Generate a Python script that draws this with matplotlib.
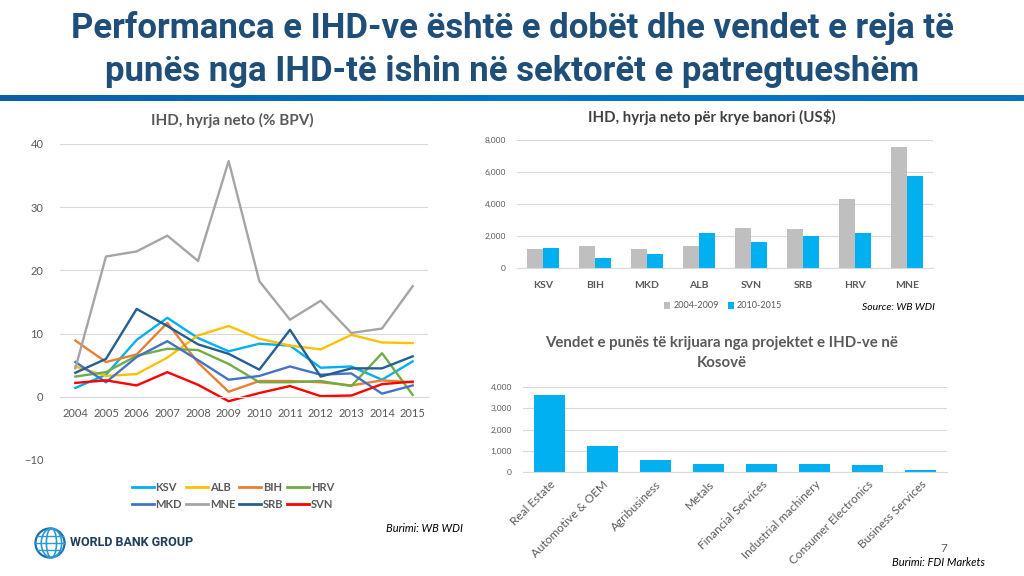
import matplotlib
matplotlib.use("Agg")
import matplotlib.pyplot as plt
import numpy as np
from matplotlib.patches import Circle, Ellipse
from matplotlib.lines import Line2D

# ---------------- data ----------------
years = ["2004", "2005", "2006", "2007", "2008", "2009", "2010", "2011", "2012", "2013", "2014", "2015"]
ksv = [1.4, 3.5, 9.0, 12.5, 9.3, 7.2, 8.4, 8.1, 4.6, 4.8, 2.7, 5.6]
alb = [4.8, 3.3, 3.6, 6.2, 9.7, 11.2, 9.2, 8.1, 7.5, 9.8, 8.6, 8.5]
bih = [8.9, 5.5, 6.7, 11.7, 5.4, 0.8, 2.5, 2.5, 2.3, 1.8, 2.6, 2.3]
hrv = [3.2, 3.9, 6.5, 7.6, 7.4, 5.2, 2.3, 2.3, 2.5, 1.7, 6.9, 0.3]
mkd = [5.5, 2.3, 6.3, 8.8, 5.8, 2.7, 3.3, 4.8, 3.5, 3.7, 0.5, 1.8]
mne = [4.5, 22.2, 23.0, 25.5, 21.5, 37.3, 18.3, 12.2, 15.2, 10.1, 10.8, 17.5]
srb = [3.8, 6.0, 13.9, 11.2, 8.3, 6.8, 4.3, 10.6, 3.2, 4.5, 4.5, 6.4]
svn = [2.2, 2.6, 1.8, 3.9, 1.9, -0.7, 0.6, 1.7, 0.1, 0.2, 2.0, 2.4]
line_series = ["KSV", "ALB", "BIH", "HRV", "MKD", "MNE", "SRB", "SVN"]

pc_countries = ["KSV", "BIH", "MKD", "ALB", "SVN", "SRB", "HRV", "MNE"]
pc_2004_2009 = [1210, 1380, 1210, 1400, 2500, 2460, 4340, 7540]
pc_2010_2015 = [1230, 630, 880, 2210, 1650, 1980, 2170, 5740]

sectors = ["Real Estate", "Automotive & OEM", "Agribusiness", "Metals", "Financial Services",
           "Industrial machinery", "Consumer Electronics", "Business Services"]
jobs = [3620, 1210, 550, 376, 376, 360, 330, 90]

# ---------------- style ----------------
W, H = 1024, 576
GRAY_TXT = "#595959"
GRID = "#D9D9D9"
colors = {"KSV": "#00B0F0", "ALB": "#FFC000", "BIH": "#ED7D31", "HRV": "#70AD47",
          "MKD": "#4472C4", "MNE": "#A5A5A5", "SRB": "#255E91", "SVN": "#FF0000"}
plt.rcParams['font.family'] = ['Lato', 'DejaVu Sans']

fig = plt.figure(figsize=(W / 100, H / 100), dpi=100)
fig.patch.set_facecolor("white")


def ax_px(l, t, r, b, **kw):
    return fig.add_axes([l / W, 1 - b / H, (r - l) / W, (b - t) / H], **kw)


def ftext(x, y, s, **kw):
    fig.text(x / W, 1 - y / H, s, **kw)


# ---------------- title ----------------
TFAM = ["Roboto", "DejaVu Sans"]
ftext(512, 28, "Performanca e IHD-ve është e dobët dhe vendet e reja të",
      ha="center", va="center", fontsize=25, fontweight="bold", color="#1F4E79", family=TFAM)
ftext(512, 72, "punës nga IHD-të ishin në sektorët e patregtueshëm",
      ha="center", va="center", fontsize=25, fontweight="bold", color="#1F4E79", family=TFAM)
bar_ax = ax_px(0, 95, 1024, 101)
bar_ax.imshow(np.linspace(0, 1, 256)[None, :], aspect="auto",
              cmap=matplotlib.colors.LinearSegmentedColormap.from_list("b", ["#0B5FA5", "#0077C8", "#0A72BE"]),
              extent=(0, 1, 0, 1))
bar_ax.axis("off")

# ---------------- line chart ----------------
ax1 = ax_px(60, 144, 428, 460)
x = np.arange(len(years))
series_vals = {"KSV": ksv, "ALB": alb, "BIH": bih, "HRV": hrv, "MKD": mkd, "MNE": mne, "SRB": srb, "SVN": svn}
for name in line_series:
    ax1.plot(x, series_vals[name], color=colors[name], lw=1.7, label=name)
ax1.set_xlim(-0.5, 11.5)
ax1.set_ylim(-10, 40)
ax1.set_yticks([-10, 0, 10, 20, 30, 40])
ax1.grid(axis="y", color=GRID, lw=0.8)
ax1.set_axisbelow(True)
for s in ["top", "right", "left"]:
    ax1.spines[s].set_visible(False)
ax1.spines["bottom"].set_position(("data", 0))
ax1.spines["bottom"].set_color(GRID)
ax1.set_xticks(x)
ax1.set_xticklabels(years)
ax1.tick_params(axis="both", length=0, labelsize=8, labelcolor=GRAY_TXT)
ax1.tick_params(axis="x", pad=8)
ax1.tick_params(axis="y", pad=12)
ftext(232, 120, "IHD, hyrja neto (% BPV)", ha="center", va="center",
      fontsize=11, fontweight="bold", color=GRAY_TXT)
# legend filled row by row: reorder for column-major filling
order = [0, 4, 1, 5, 2, 6, 3, 7]
handles = [Line2D([], [], color=colors[line_series[i]], lw=2) for i in order]
labels = [line_series[i] for i in order]
leg = fig.legend(handles, labels, loc="center", bbox_to_anchor=(233 / W, 1 - 496 / H),
                 ncol=4, frameon=False, fontsize=8, handlelength=2.0, handletextpad=0.15,
                 columnspacing=0.35, labelspacing=0.6)
for t in leg.get_texts():
    t.set_color(GRAY_TXT)
    t.set_fontweight("bold")
ftext(463, 529, "Burimi: WB WDI", ha="right", va="center", fontsize=8, style="italic", color="black")

# ---------------- per capita bar chart ----------------
ax2 = ax_px(517, 140, 933, 268)
xc = np.arange(len(pc_countries))
bw = 0.31
ax2.bar(xc - bw / 2, pc_2004_2009, width=bw, color="#BFBFBF", label="2004-2009")
ax2.bar(xc + bw / 2, pc_2010_2015, width=bw, color="#00B0F0", label="2010-2015")
ax2.set_xlim(-0.5, 7.5)
ax2.set_ylim(0, 8000)
ax2.set_yticks([0, 2000, 4000, 6000, 8000])
ax2.set_yticklabels([f"{v:,}" for v in [0, 2000, 4000, 6000, 8000]])
ax2.grid(axis="y", color=GRID, lw=0.8)
ax2.set_axisbelow(True)
for s in ["top", "right", "left"]:
    ax2.spines[s].set_visible(False)
ax2.spines["bottom"].set_color(GRID)
ax2.set_xticks(xc)
ax2.set_xticklabels(pc_countries, fontweight="bold")
ax2.tick_params(axis="y", length=0, labelsize=6, labelcolor=GRAY_TXT, pad=8)
ax2.tick_params(axis="x", length=0, labelsize=7.5, labelcolor=GRAY_TXT, pad=9)
ftext(712, 117, "IHD, hyrja neto për krye banori (US$)", ha="center", va="center",
      fontsize=10.8, fontweight="bold", color="#404040")
leg2 = fig.legend(loc="center", bbox_to_anchor=(723 / W, 1 - 306 / H), ncol=2, frameon=False,
                  fontsize=6.5, handlelength=0.7, handleheight=0.7, handletextpad=0.3, columnspacing=1.0,
                  handles=ax2.get_legend_handles_labels()[0], labels=["2004-2009", "2010-2015"])
for t in leg2.get_texts():
    t.set_color(GRAY_TXT)
ftext(862, 307, "Source: WB WDI", ha="left", va="center", fontsize=7.5, style="italic", color="black")

# ---------------- jobs bar chart ----------------
ax3 = ax_px(523, 387, 947, 472)
xs = np.arange(len(sectors))
ax3.bar(xs, jobs, width=0.6, color="#00B0F0")
ax3.set_xlim(-0.5, 7.5)
ax3.set_ylim(0, 4000)
ax3.set_yticks([0, 1000, 2000, 3000, 4000])
ax3.set_yticklabels([f"{v:,}" for v in [0, 1000, 2000, 3000, 4000]])
ax3.grid(axis="y", color=GRID, lw=0.8)
ax3.set_axisbelow(True)
for s in ["top", "right", "left"]:
    ax3.spines[s].set_visible(False)
ax3.spines["bottom"].set_color(GRID)
ax3.set_xticks(xs)
ax3.set_xticklabels(sectors, rotation=45, ha="right", rotation_mode="anchor")
ax3.tick_params(axis="y", length=0, labelsize=6, labelcolor=GRAY_TXT, pad=8)
ax3.tick_params(axis="x", length=0, labelsize=8.5, labelcolor=GRAY_TXT, pad=5)
ftext(722, 343, "Vendet e punës të krijuara nga projektet e IHD-ve në", ha="center", va="center",
      fontsize=10.8, fontweight="bold", color=GRAY_TXT)
ftext(722, 363, "Kosovë", ha="center", va="center", fontsize=10.8, fontweight="bold", color=GRAY_TXT)
ftext(944, 548, "7", ha="center", va="center", fontsize=8.5, color=GRAY_TXT)
ftext(985, 562, "Burimi: FDI Markets", ha="right", va="center", fontsize=8, style="italic", color="black")

# ---------------- logo ----------------
lg = ax_px(34, 527, 66, 559)
lg.set_xlim(-1.1, 1.1)
lg.set_ylim(-1.1, 1.1)
lg.set_aspect("equal")
lg.axis("off")
lg.add_patch(Circle((0, 0), 1, fill=False, lw=1.6, ec="#1B6FA8"))
for w in [0.35, 0.7]:
    lg.add_patch(Ellipse((0.1, 0), w * 2, 2, fill=False, lw=1.2, ec="#2A9AD6"))
for yy in [-0.5, 0.0, 0.5]:
    hw = np.sqrt(1 - yy ** 2)
    lg.plot([-hw, hw], [yy, yy], color="#2A9AD6", lw=1.0)
ftext(70, 543, "WORLD BANK GROUP", ha="left", va="center", fontsize=9, fontweight="bold",
      color="#1E3F5A", family=["Roboto", "DejaVu Sans"])

fig.savefig("out.png", dpi=100, facecolor="white")
